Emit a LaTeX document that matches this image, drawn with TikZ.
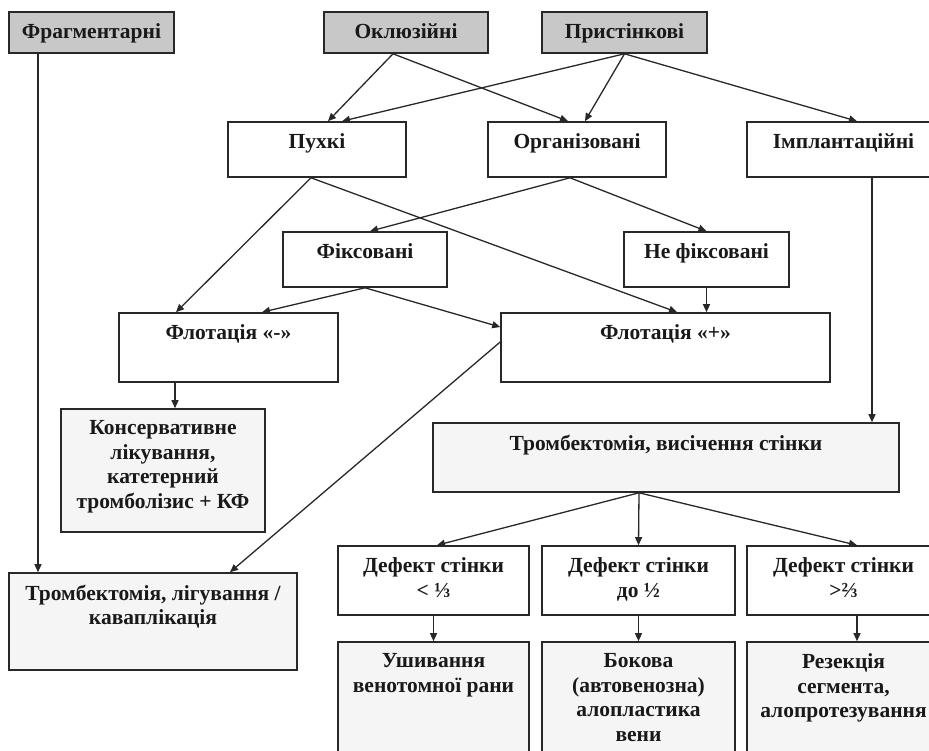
\documentclass[tikz,border=0pt]{standalone}
\usepackage{fontspec}
\setmainfont{Liberation Serif}
\usetikzlibrary{arrows.meta,positioning}
\definecolor{trHead}{RGB}{200,200,200}
\definecolor{trRes}{RGB}{245,245,245}
\definecolor{trLine}{RGB}{40,40,40}

\begin{document}
\begin{tikzpicture}[x=1pt, y=-1pt,
    box/.style={rectangle, draw=trLine, line width=1.6pt, fill=white, inner sep=0pt},
    head/.style={box, fill=trHead},
    res/.style={box, fill=trRes},
    txt/.style={font=\fontsize{21.5}{24.5}\selectfont\bfseries, align=center,
                anchor=north, inner sep=0pt, yshift=-12.5pt, text=black!90},
    arr/.style={-{Triangle[length=8pt,width=7pt]}, trLine, line width=1.3pt}
  ]
  \useasboundingbox (0,0) rectangle (929,751);
  \clip (0,0) rectangle (929,751);

  % top row
  \node[head, minimum width=165pt, minimum height=41pt] (frag)  at (91.5,32.5)  {};
  \node[head, minimum width=164pt, minimum height=41pt] (okl)   at (406,32.5)   {};
  \node[head, minimum width=165pt, minimum height=41pt] (prist) at (624.5,32.5) {};
  \node[txt] (frag-t)  at (frag.north)  {Фрагментарні};
  \node[txt] (okl-t)   at (okl.north)   {Оклюзійні};
  \node[txt] (prist-t) at (prist.north) {Пристінкові};

  % thrombus kinds
  \node[box, minimum width=178pt, minimum height=55pt] (pukh)  at (317,149.5)   {};
  \node[box, minimum width=178pt, minimum height=55pt] (org)   at (577,149.5)   {};
  \node[box, minimum width=193pt, minimum height=55pt] (impl)  at (843.5,149.5) {};
  \node[box, minimum width=164pt, minimum height=55pt] (fix)   at (365,259.5)   {};
  \node[box, minimum width=165pt, minimum height=55pt] (nefix) at (706.5,259.5) {};
  \node[txt] (pukh-t)  at (pukh.north)  {Пухкі};
  \node[txt] (org-t)   at (org.north)   {Організовані};
  \node[txt] (impl-t)  at (impl.north)  {Імплантаційні};
  \node[txt] (fix-t)   at (fix.north)   {Фіксовані};
  \node[txt] (nefix-t) at (nefix.north) {Не фіксовані};

  % flotation
  \node[box, minimum width=219pt, minimum height=69pt] (flm) at (228.5,347.5) {};
  \node[box, minimum width=329pt, minimum height=69pt] (flp) at (665.5,347.5) {};
  \node[txt] (flm-t) at (flm.north) {Флотація «-»};
  \node[txt] (flp-t) at (flp.north) {Флотація «+»};

  % treatment
  \node[res, minimum width=204pt, minimum height=123pt] (kons) at (163,470.5) {};
  \node[res, minimum width=466pt, minimum height=69pt]  (trv)  at (666,457.5) {};
  \node[res, minimum width=288pt, minimum height=97pt]  (trl)  at (153,621.5) {};
  \node[txt] (kons-t) at (kons.north) {Консервативне\\лікування,\\катетерний\\тромболізис + КФ};
  \node[txt] (trv-t)  at (trv.north)  {Тромбектомія, висічення стінки};
  \node[txt] (trl-t)  at (trl.north)  {Тромбектомія, лігування /\\каваплікація};

  % wall defects
  \node[box, minimum width=191pt, minimum height=69pt] (d1) at (433.5,580.5) {};
  \node[box, minimum width=193pt, minimum height=69pt] (d2) at (638.5,580.5) {};
  \node[box, minimum width=193pt, minimum height=69pt] (d3) at (843.5,580.5) {};
  \node[txt] (d1-t) at (d1.north) {Дефект стінки\\< ⅓};
  \node[txt] (d2-t) at (d2.north) {Дефект стінки\\до ½};
  \node[txt] (d3-t) at (d3.north) {Дефект стінки\\>⅔};

  \node[res, minimum width=191pt, minimum height=128pt] (r1) at (433.5,706) {};
  \node[res, minimum width=193pt, minimum height=128pt] (r2) at (638.5,706) {};
  \node[res, minimum width=193pt, minimum height=128pt] (r3) at (843.5,706) {};
  \node[txt] (r1-t) at (r1.north) {Ушивання\\венотомної рани};
  \node[txt] (r2-t) at (r2.north) {Бокова\\(автовенозна)\\алопластика\\вени};
  \node[txt] (r3-t) at (r3.north) {Резекція\\сегмента,\\алопротезування};

  % connectors
  \draw[arr] ([xshift=-53.5pt]frag.south) -- ([xshift=-115pt]trl.north);
  \draw[arr] ([xshift=-13pt]okl.south) -- ([xshift=11pt]pukh.north);
  \draw[arr] ([xshift=-13pt]okl.south) -- ([xshift=-9pt]org.north);
  \draw[arr] (prist.south) -- ([xshift=25pt]pukh.north);
  \draw[arr] (prist.south) -- ([xshift=8pt]org.north);
  \draw[arr] (prist.south) -- ([xshift=13.5pt]impl.north);

  \draw[arr] ([xshift=-6pt]pukh.south) -- ([xshift=-52.5pt]flm.north);
  \draw[arr] ([xshift=-6pt]pukh.south) -- ([xshift=11.5pt]flp.north);
  \draw[arr] ([xshift=-7pt]org.south) -- ([xshift=5pt]fix.north);
  \draw[arr] ([xshift=-7pt]org.south) -- (nefix.north);

  \draw[arr] (fix.south) -- ([xshift=33.5pt]flm.north);
  \draw[arr] (fix.south) -- ([yshift=20.5pt]flp.west);
  \draw[arr] (nefix.south) -- (nefix.south |- flp.north);

  \draw[arr] ([xshift=-53.5pt]flm.south) -- ([xshift=12pt]kons.north);
  \draw[arr] ([yshift=5.5pt]flp.west) -- ([xshift=77pt]trl.north);
  \draw[arr] ([xshift=28.5pt]impl.south) -- ([xshift=206pt]trv.north);

  \draw[arr] ([xshift=-27pt]trv.south) -- ([xshift=3.5pt]d1.north);
  \draw[arr] ([xshift=-27pt]trv.south) -- (d2.north);
  \draw[arr] ([xshift=-27pt]trv.south) -- ([xshift=13.5pt]d3.north);

  \draw[arr] (d1.south) -- (r1.north);
  \draw[arr] (d2.south) -- (r2.north);
  \draw[arr] ([xshift=13.5pt]d3.south) -- ([xshift=13.5pt]r3.north);
\end{tikzpicture}
\end{document}
